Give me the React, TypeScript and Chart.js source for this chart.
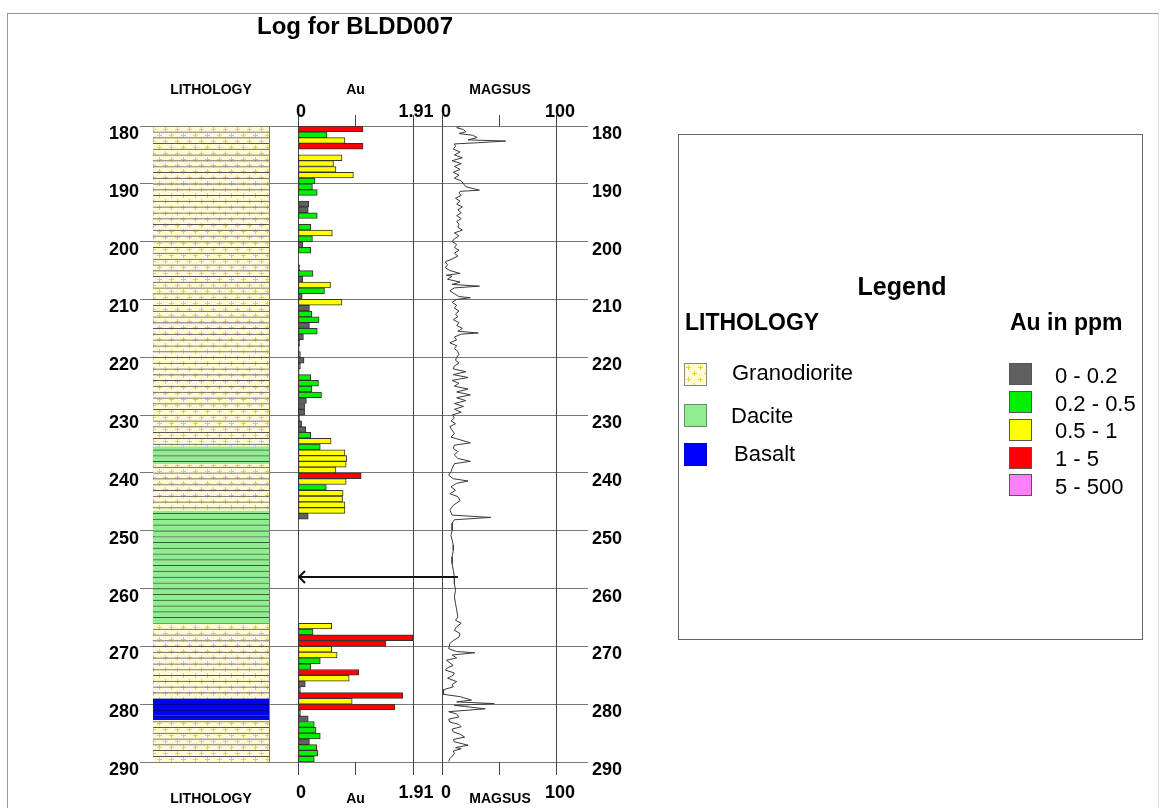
import React, { useEffect, useRef } from "react";
import { Chart, registerables } from "chart.js";

Chart.register(...registerables);

// ---------------- DATA ----------------
const TITLE = "Log for BLDD007";
const DEPTH_MIN = 180;
const DEPTH_MAX = 290;
const DEPTH_STEP = 10;

// Lithology intervals (m)
const LITH_FROM = [180, 235.5, 238.5, 246.6, 266.2, 279.1, 282.8];
const LITH_TO = [235.5, 238.5, 246.6, 266.2, 279.1, 282.8, 290];
const LITH_TYPE = ["Granodiorite", "Dacite", "Granodiorite", "Dacite", "Granodiorite", "Basalt", "Granodiorite"];
const LITH_NAMES = ["Granodiorite", "Dacite", "Basalt"];

// Au assays, 1 m intervals starting at AU_FROM (ppm)
const AU_FROM = [
  180, 181, 182, 183, 184, 185, 186, 187, 188, 189, 190, 191, 193, 194, 195, 197, 198, 199,
  200, 201, 202, 204, 205, 206, 207, 208, 209, 210, 211, 212, 213, 214, 215, 216, 217, 218, 219,
  220, 221, 222, 223, 224, 225, 226, 227, 228, 229, 230, 231, 232, 233, 234, 235, 236, 237, 238, 239,
  240, 241, 242, 243, 244, 245, 246, 247, 248, 249, 265, 266, 267, 268, 269,
  270, 271, 272, 273, 274, 275, 276, 277, 278, 279, 280, 281, 282, 283, 284, 285, 286, 287, 288, 289,
];
const AU_PPM = [
  1.08, 0.48, 0.78, 1.08, 0.01, 0.73, 0.59, 0.63, 0.92, 0.28, 0.24, 0.32, 0.18, 0.17, 0.32, 0.21, 0.57, 0.24,
  0.08, 0.21, 0.01, 0.03, 0.25, 0.08, 0.54, 0.44, 0.07, 0.73, 0.19, 0.23, 0.35, 0.19, 0.32, 0.09, 0.03, 0.02, 0.04,
  0.1, 0.04, 0.02, 0.21, 0.34, 0.23, 0.39, 0.14, 0.11, 0.11, 0.03, 0.06, 0.13, 0.21, 0.55, 0.37, 0.78, 0.81, 0.8, 0.63,
  1.05, 0.8, 0.47, 0.75, 0.74, 0.78, 0.78, 0.17, 0.01, 0.01, 0.01, 0.56, 0.25, 1.91, 1.46,
  0.56, 0.65, 0.37, 0.21, 1.01, 0.85, 0.12, 0.04, 1.74, 0.9, 1.61, 0.04, 0.17, 0.27, 0.3, 0.37, 0.19, 0.31, 0.33, 0.27,
];
const AU_MAX = 1.91;
const AU_CLASS_LABELS = ["0 - 0.2", "0.2 - 0.5", "0.5 - 1", "1 - 5", "5 - 500"];
const AU_CLASS_UPPER = [0.2, 0.5, 1, 5, 500];

// Magnetic susceptibility trace
const MAG_DEPTH = [
  180.0, 180.3, 180.6, 181.0, 181.3, 181.6, 182.0, 182.4, 182.6, 182.9, 183.1, 183.5, 184.0, 184.5, 185.0, 185.5,
  186.0, 186.5, 187.0, 187.5, 188.0, 188.5, 189.0, 189.5, 190.0, 190.5, 191.1, 191.3, 191.6, 192.0, 192.5, 193.0,
  193.5, 194.0, 194.5, 195.0, 195.5, 196.0, 196.5, 197.0, 197.5, 198.0, 198.5, 199.0, 199.5, 200.0, 200.5, 201.0,
  201.5, 202.0, 202.5, 203.0, 203.5, 204.0, 204.5, 205.0, 205.5, 205.8, 206.0, 206.5, 207.0, 207.4, 207.7, 208.0,
  208.5, 209.0, 209.5, 209.7, 210.0, 210.5, 211.0, 211.5, 212.0, 212.5, 213.0, 213.5, 214.0, 214.5, 215.0, 215.5,
  215.8, 216.0, 216.5, 217.0, 217.5, 218.0, 218.5, 219.0, 219.5, 220.0, 220.5, 221.0, 221.5, 222.0, 222.5, 223.0,
  223.5, 224.0, 224.5, 225.0, 225.5, 226.0, 226.5, 227.0, 227.5, 228.0, 228.5, 229.0, 229.5, 230.0, 230.5, 231.0,
  231.5, 232.0, 232.6, 233.2, 233.8, 234.8, 235.2, 235.8, 236.3, 236.9, 237.5, 238.0, 238.4, 239.2, 239.8, 240.4,
  241.0, 241.4, 241.8, 242.4, 243.0, 243.6, 244.1, 244.8, 245.6, 246.4, 247.3, 247.7, 248.1, 248.7, 249.9, 250.8,
  251.6, 252.5, 253.4, 254.5, 255.7, 256.8, 258.0, 259.2, 260.3, 261.4, 262.6, 263.7, 264.9, 265.5, 266.0, 266.6,
  267.2, 267.8, 268.4, 269.0, 269.5, 270.4, 270.9, 271.1, 271.5, 272.0, 272.4, 273.3, 273.7, 274.1, 274.6, 275.0,
  275.5, 276.1, 276.6, 277.0, 277.5, 278.3, 278.7, 279.3, 279.6, 279.9, 280.2, 280.4, 280.8, 281.3, 281.7, 282.2,
  282.6, 283.1, 283.5, 283.9, 284.3, 284.8, 285.2, 285.7, 286.1, 286.5, 287.1, 287.5, 287.7, 288.1, 288.5, 289.0,
  289.4, 289.9,
];
const MAG_VALUE = [
  15, 12, 18, 20, 14, 26, 30, 22, 55, 30, 10, 11, 9, 15, 10, 17,
  8, 16, 10, 15, 9, 14, 10, 16, 18, 20, 32, 15, 14, 16, 11, 15,
  12, 17, 13, 16, 12, 16, 12, 14, 13, 17, 10, 14, 10, 8, 12, 10,
  14, 10, 13, 8, 2, 4, 2, 6, 15, 3, 8, 4, 15, 8, 32, 10,
  6, 10, 14, 24, 12, 8, 12, 10, 14, 11, 13, 9, 14, 12, 17, 13,
  31, 16, 10, 12, 6, 12, 10, 13, 14, 12, 11, 14, 10, 9, 20, 9,
  22, 8, 14, 10, 22, 12, 24, 12, 20, 10, 18, 10, 16, 8, 10, 7,
  11, 6, 8, 10, 7, 24, 10, 9, 13, 10, 13, 24, 10, 8, 7, 5,
  9, 22, 12, 7, 11, 6, 13, 15, 9, 6, 8, 42, 10, 8, 8, 7,
  8, 9, 9, 8, 8, 9, 10, 10, 11, 10, 11, 12, 13, 11, 16, 12,
  10, 15, 14, 9, 6, 5, 12, 28, 8, 12, 3, 9, 4, 2, 10, 9,
  4, 12, 8, 9, 0.5, 0.5, 15, 25, 12, 45, 10, 19, 37, 5, 12, 14,
  5, 6, 14, 16, 8, 9, 15, 19, 9, 10, 22, 11, 16, 9, 10, 8,
  6, 5,
];
const MAG_MAX = 100;

// Annotation arrow (from magsus trace to Au axis)
const ARROW_DEPTH = 258;
const ARROW_MAG = 13;

// ---------------- STYLE / LAYOUT ----------------
const FONT = "'Liberation Sans', Arial, Helvetica, sans-serif";
const W = 1161;
const H = 808;
const AREA_LEFT = 153;
const AREA_RIGHT = 557;
const TITLE_SIZE = 24;
const TITLE_PAD = { top: 13, bottom: 9 };
const TITLE_H = TITLE_SIZE * 1.2 + TITLE_PAD.top + TITLE_PAD.bottom;
const AREA_TOP = 126;
const TOP_H = AREA_TOP - TITLE_H;
const BOTTOM_H = 46;
const COL_LITH = 116;
const COL_GAP1 = 29;
const COL_AU = 115;
const COL_GAP2 = 30;
const COL_MAG = 114;

const AU_CLASS_COLORS = ["#606060", "#00f000", "#ffff00", "#ff0000", "#ff80ff"];
const LITH_FILL: Record<string, string> = { Dacite: "#90ee90", Basalt: "#0000ff" };
const LITH_LINE: Record<string, string> = { Granodiorite: "#55554a", Dacite: "#3d5a3d", Basalt: "#000066" };
const GRANO_BG = "#fffbd2";
const GRANO_CROSS = "#ecd81e";

function makeGranoTile(): HTMLCanvasElement {
  const c = document.createElement("canvas");
  c.width = 12;
  c.height = 12;
  const g = c.getContext("2d")!;
  g.fillStyle = GRANO_BG;
  g.fillRect(0, 0, 12, 12);
  g.fillStyle = GRANO_CROSS;
  const plus = (cx: number, cy: number) => {
    g.fillRect(cx - 2, cy, 5, 1);
    g.fillRect(cx, cy - 2, 1, 5);
  };
  plus(3, 3);
  plus(9, 9);
  return c;
}

function auClass(v: number): number {
  for (let i = 0; i < AU_CLASS_UPPER.length; i++) if (v <= AU_CLASS_UPPER[i]) return i;
  return AU_CLASS_UPPER.length - 1;
}

function buildLithSegments() {
  const segs: { from: number; to: number; lith: string }[] = [];
  for (let i = 0; i < LITH_FROM.length; i++) {
    let a = LITH_FROM[i];
    const b = LITH_TO[i];
    while (a < b - 1e-6) {
      const next = Math.min(b, Math.floor(a + 1e-6) + 1);
      segs.push({ from: a, to: next, lith: LITH_TYPE[i] });
      a = next;
    }
  }
  return segs;
}

const tickFont = { family: FONT, size: 18, weight: "bold" as const };
const axisTitleFont = { family: FONT, size: 14, weight: "bold" as const };
const TOP_TITLE_PAD = { top: 90.5 - TITLE_H - 8.4, bottom: 0 };
const BOT_TITLE_PAD = { top: 0, bottom: 0 };

const setH = (h: number) => (s: any) => {
  s.height = h;
};

function valueAxis(
  pos: "top" | "bottom",
  stackWeight: number,
  weight: number,
  max: number,
  title: string
) {
  const top = pos === "top";
  return {
    type: "linear",
    axis: "x",
    position: pos,
    stack: top ? "top" : "bot",
    stackWeight,
    weight,
    min: 0,
    max,
    offset: false,
    afterBuildTicks: (s: any) => {
      s.ticks = [0, max / 2, max].map((v) => ({ value: v }));
    },
    ticks: {
      font: tickFont,
      color: "#000",
      padding: top ? -8 : 7,
      labelOffset: 3,
      autoSkip: false,
      maxRotation: 0,
      minRotation: 0,
      callback: (v: number) => (v === 0 || v === max ? String(v) : ""),
    },
    grid: {
      offset: false,
      drawOnChartArea: top,
      color: (c: any) => (c.index === 1 ? "rgba(0,0,0,0)" : "#444"),
      tickColor: "#444",
      tickLength: top ? 11 : 13,
      lineWidth: 1,
    },
    border: { display: false },
    title: { display: true, text: title, font: axisTitleFont, color: "#000", padding: top ? TOP_TITLE_PAD : BOT_TITLE_PAD },
    afterFit: setH(top ? TOP_H : BOTTOM_H),
  };
}

function lithAxis(pos: "top" | "bottom", weight: number) {
  const top = pos === "top";
  return {
    type: "linear",
    axis: "x",
    position: pos,
    stack: top ? "top" : "bot",
    stackWeight: COL_LITH,
    weight,
    min: 0,
    max: 1,
    offset: false,
    afterBuildTicks: (s: any) => {
      s.ticks = [{ value: 0 }, { value: 1 }];
    },
    ticks: { display: false },
    grid: { display: top, offset: false, drawTicks: false, color: "#777", lineWidth: 1 },
    border: { display: false },
    title: { display: true, text: "LITHOLOGY", font: axisTitleFont, color: "#000", padding: top ? TOP_TITLE_PAD : BOT_TITLE_PAD },
    afterFit: setH(top ? TOP_H : BOTTOM_H),
  };
}

function gapAxis(pos: "top" | "bottom", stackWeight: number, weight: number) {
  return {
    type: "linear",
    axis: "x",
    position: pos,
    stack: pos === "top" ? "top" : "bot",
    stackWeight,
    weight,
    display: false,
    offset: false,
  };
}

const arrowPlugin = {
  id: "depthArrow",
  afterDatasetsDraw(chart: any) {
    const { ctx, scales } = chart;
    const y = scales.y.getPixelForValue(ARROW_DEPTH);
    const x0 = scales.xAu.getPixelForValue(0);
    const x1 = scales.xMag.getPixelForValue(ARROW_MAG);
    ctx.save();
    ctx.strokeStyle = "#111";
    ctx.lineWidth = 2;
    ctx.beginPath();
    ctx.moveTo(x1, y);
    ctx.lineTo(x0 + 1, y);
    ctx.stroke();
    ctx.beginPath();
    ctx.moveTo(x0 + 7, y - 6);
    ctx.lineTo(x0 + 1, y);
    ctx.lineTo(x0 + 7, y + 6);
    ctx.stroke();
    ctx.restore();
  },
};

function Txt(props: {
  x: number;
  baseline: number;
  size: number;
  bold?: boolean;
  center?: boolean;
  children: React.ReactNode;
}) {
  const { x, baseline, size, bold, center, children } = props;
  return (
    <div
      style={{
        position: "absolute",
        left: x,
        top: baseline - 0.8465 * size,
        fontFamily: FONT,
        fontSize: size,
        lineHeight: `${size}px`,
        fontWeight: bold ? "bold" : "normal",
        whiteSpace: "nowrap",
        color: "#000",
        transform: center ? "translateX(-50%)" : undefined,
      }}
    >
      {children}
    </div>
  );
}

export default function App() {
  const canvasRef = useRef<HTMLCanvasElement>(null);
  const swatchRef = useRef<HTMLCanvasElement>(null);

  useEffect(() => {
    const tile = makeGranoTile();
    const cnv = canvasRef.current!;
    const pattern = cnv.getContext("2d")!.createPattern(tile, "repeat")!;

    const segs = buildLithSegments();
    const lithFill = (name: string) => (name === "Granodiorite" ? pattern : LITH_FILL[name]);

    const config: any = {
      type: "bar",
      data: {
        datasets: [
          {
            type: "bar",
            label: "Lithology",
            indexAxis: "x",
            xAxisID: "xLith",
            yAxisID: "yLith",
            data: segs.map((s) => ({ x: 0.5, y: [s.from, s.to] })),
            backgroundColor: segs.map((s) => lithFill(s.lith)),
            borderColor: segs.map((s) => LITH_LINE[s.lith]),
            borderWidth: segs.map((s) => ({
              top: Math.abs(s.from - Math.round(s.from)) < 1e-6 ? 1 : 0,
              bottom: 0,
              left: 0,
              right: 0,
            })),
            borderSkipped: false,
            barPercentage: 1,
            categoryPercentage: 1,
            grouped: false,
            order: 3,
          },
          {
            type: "bar",
            label: "Au",
            indexAxis: "y",
            xAxisID: "xAu",
            yAxisID: "y",
            data: AU_FROM.map((d, i) => ({ x: AU_PPM[i], y: d + 0.5 })),
            backgroundColor: AU_PPM.map((v) => AU_CLASS_COLORS[auClass(v)]),
            borderColor: "#333",
            borderWidth: 1,
            borderSkipped: false,
            barPercentage: 1,
            categoryPercentage: 1,
            grouped: false,
            order: 2,
          },
          {
            type: "line",
            label: "MAGSUS",
            indexAxis: "y",
            xAxisID: "xMag",
            yAxisID: "y",
            data: MAG_DEPTH.map((d, i) => ({ x: MAG_VALUE[i], y: d })),
            borderColor: "#3a3a3a",
            borderWidth: 1,
            pointRadius: 0,
            fill: false,
            tension: 0,
            order: 1,
          },
        ],
      },
      options: {
        responsive: false,
        animation: false,
        devicePixelRatio: 1,
        events: [],
        layout: { padding: 0 },
        plugins: {
          legend: { display: false },
          tooltip: { enabled: false },
          title: {
            display: true,
            text: TITLE,
            position: "top",
            fullSize: false,
            align: "center",
            color: "#000",
            font: { family: FONT, size: TITLE_SIZE, weight: "bold" },
            padding: TITLE_PAD,
          },
        },
        scales: {
          y: {
            type: "linear",
            position: "left",
            reverse: true,
            min: DEPTH_MIN,
            max: DEPTH_MAX,
            offset: false,
            ticks: { stepSize: DEPTH_STEP, font: tickFont, color: "#000", padding: 1, labelOffset: 8 },
            grid: { offset: false, color: "#777", tickColor: "#777", tickLength: 13, lineWidth: 1 },
            border: { display: false },
            afterFit: (s: any) => {
              s.width = AREA_LEFT;
            },
          },
          y2: {
            type: "linear",
            axis: "y",
            position: "right",
            reverse: true,
            min: DEPTH_MIN,
            max: DEPTH_MAX,
            offset: false,
            ticks: { stepSize: DEPTH_STEP, font: tickFont, color: "#000", padding: 4, labelOffset: 8 },
            grid: { offset: false, drawOnChartArea: false, color: "#777", tickColor: "#777", tickLength: 31, lineWidth: 1 },
            border: { display: false },
            afterFit: (s: any) => {
              s.width = W - AREA_RIGHT;
            },
          },
          yLith: {
            type: "linear",
            axis: "y",
            position: "left",
            display: false,
            reverse: true,
            min: DEPTH_MIN,
            max: DEPTH_MAX,
            offset: false,
          },
          xLith: lithAxis("top", 5),
          xGap1: gapAxis("top", COL_GAP1, 4),
          xAu: valueAxis("top", COL_AU, 3, AU_MAX, "Au"),
          xGap2: gapAxis("top", COL_GAP2, 2),
          xMag: valueAxis("top", COL_MAG, 1, MAG_MAX, "MAGSUS"),
          xLithB: lithAxis("bottom", 1),
          xGap1B: gapAxis("bottom", COL_GAP1, 2),
          xAuB: valueAxis("bottom", COL_AU, 3, AU_MAX, "Au"),
          xGap2B: gapAxis("bottom", COL_GAP2, 4),
          xMagB: valueAxis("bottom", COL_MAG, 5, MAG_MAX, "MAGSUS"),
        },
      },
      plugins: [arrowPlugin],
    };

    const chart = new Chart(cnv, config);

    const sw = swatchRef.current;
    if (sw) {
      const sctx = sw.getContext("2d")!;
      sctx.clearRect(0, 0, sw.width, sw.height);
      sctx.fillStyle = sctx.createPattern(tile, "repeat")!;
      sctx.fillRect(0, 0, sw.width, sw.height);
    }

    return () => chart.destroy();
  }, []);

  const lithSwatchTop = [363, 404, 443];
  const lithLabelBase = [381, 424, 462];
  const lithLabelX = [732, 731, 734];
  const auSwatchTop = [363, 391, 419, 447, 474];
  const auLabelBase = [384, 412, 439, 467, 495];

  return (
    <div style={{ position: "absolute", left: 0, top: 0, width: W, height: H, overflow: "hidden", background: "#fff" }}>
      <div
        style={{
          position: "absolute",
          left: 7,
          top: 13,
          width: 1152,
          height: H,
          borderTop: "1px solid #999",
          borderLeft: "1px solid #999",
          borderRight: "1px solid #e2e2e2",
          boxSizing: "border-box",
        }}
      />
      <canvas ref={canvasRef} width={W} height={H} style={{ position: "absolute", left: 0, top: 0, width: W, height: H }} />

      <div
        style={{
          position: "absolute",
          left: 678,
          top: 134,
          width: 465,
          height: 506,
          border: "1px solid #666",
          boxSizing: "border-box",
        }}
      />
      <Txt x={902} baseline={295} size={25} bold center>
        Legend
      </Txt>
      <Txt x={685} baseline={330} size={23} bold>
        LITHOLOGY
      </Txt>
      <Txt x={1010} baseline={330} size={23} bold>
        Au in ppm
      </Txt>

      {LITH_NAMES.map((name, i) =>
        name === "Granodiorite" ? (
          <canvas
            key={name}
            ref={swatchRef}
            width={21}
            height={21}
            style={{ position: "absolute", left: 684, top: lithSwatchTop[i], border: "1px solid #888" }}
          />
        ) : (
          <div
            key={name}
            style={{
              position: "absolute",
              left: 684,
              top: lithSwatchTop[i],
              width: 23,
              height: 23,
              boxSizing: "border-box",
              background: LITH_FILL[name],
              border: name === "Basalt" ? "1px solid #0000c0" : "1px solid #6a8a6a",
            }}
          />
        )
      )}
      {LITH_NAMES.map((name, i) => (
        <Txt key={name} x={lithLabelX[i]} baseline={lithLabelBase[i]} size={22}>
          {name}
        </Txt>
      ))}

      {AU_CLASS_LABELS.map((lab, i) => (
        <div
          key={"sw" + lab}
          style={{
            position: "absolute",
            left: 1009,
            top: auSwatchTop[i],
            width: 23,
            height: 22,
            boxSizing: "border-box",
            background: AU_CLASS_COLORS[i],
            border: "1px solid #555",
          }}
        />
      ))}
      {AU_CLASS_LABELS.map((lab, i) => (
        <Txt key={lab} x={1055} baseline={auLabelBase[i]} size={22}>
          {lab}
        </Txt>
      ))}
    </div>
  );
}
